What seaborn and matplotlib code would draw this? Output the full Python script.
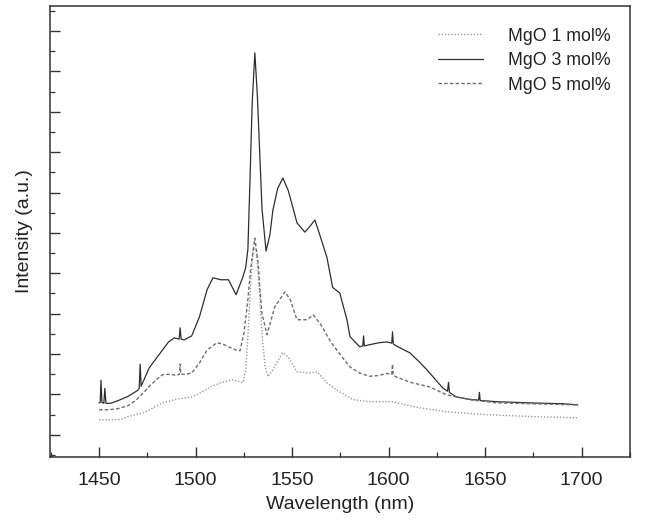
import matplotlib
matplotlib.use("Agg")
import matplotlib.pyplot as plt
import seaborn as sns
import pandas as pd
from matplotlib.ticker import MultipleLocator, NullFormatter

# ---- data ----
labels = ["MgO 1 mol%", "MgO 3 mol%", "MgO 5 mol%"]

mgo1_x = [1450, 1456, 1461, 1465, 1469, 1473, 1478, 1483, 1490, 1498, 1503, 1508,
          1513, 1519, 1524.5, 1526, 1527.2, 1528.5, 1529.8, 1531.5, 1533, 1534.4,
          1536, 1537.5, 1540, 1545, 1548, 1552.5, 1559, 1563, 1568, 1573, 1581.5,
          1590, 1602, 1609, 1616, 1630, 1650, 1675, 1698]
mgo1_y = [0.37, 0.37, 0.38, 0.45, 0.50, 0.54, 0.67, 0.79, 0.88, 0.94, 1.05, 1.19,
          1.29, 1.36, 1.29, 1.60, 2.50, 3.70, 4.60, 4.60, 3.60, 2.50,
          1.70, 1.44, 1.61, 2.03, 1.93, 1.56, 1.53, 1.56, 1.29, 1.11, 0.87,
          0.82, 0.82, 0.74, 0.67, 0.57, 0.50, 0.45, 0.42]

mgo3_x = [1450, 1450.6, 1451, 1451.5, 1452.5, 1453, 1453.6, 1456, 1460, 1465, 1470,
          1470.8, 1471.3, 1471.8, 1476, 1481, 1486, 1489, 1491.5, 1492, 1492.5, 1494,
          1498, 1502, 1506, 1509, 1513, 1517, 1521, 1524.5, 1526, 1527.1, 1528.3,
          1529.3, 1530.7, 1532, 1533.3, 1534.4, 1536.5, 1538.5, 1540, 1542.5, 1545.2,
          1548, 1550, 1552.5, 1556.6, 1559, 1561.8, 1564, 1568, 1571, 1574.7, 1578.4,
          1580, 1585, 1586.6, 1587, 1587.4, 1590, 1595, 1599, 1601.6, 1602, 1602.4,
          1604, 1611, 1616, 1620, 1624, 1628, 1630.5, 1631, 1631.5, 1635, 1643,
          1646.6, 1647, 1647.4, 1656, 1673, 1690, 1698]
mgo3_y = [0.79, 0.80, 1.35, 0.80, 0.78, 1.15, 0.78, 0.78, 0.85, 0.95, 1.10,
          1.15, 1.75, 1.20, 1.66, 1.98, 2.30, 2.40, 2.37, 2.65, 2.37, 2.35,
          2.45, 2.92, 3.60, 3.89, 3.84, 3.84, 3.47, 3.91, 4.15, 4.60, 6.50,
          8.20, 9.46, 8.40, 6.90, 5.60, 4.55, 4.95, 5.55, 6.10, 6.36,
          6.05, 5.70, 5.25, 5.02, 5.15, 5.32, 5.00, 4.40, 3.65, 3.51, 2.85,
          2.43, 2.18, 2.20, 2.45, 2.20, 2.23, 2.28, 2.30, 2.27, 2.55, 2.25,
          2.20, 2.03, 1.80, 1.60, 1.38, 1.16, 1.08, 1.30, 1.05, 0.94, 0.87,
          0.86, 1.05, 0.85, 0.82, 0.79, 0.77, 0.74]

mgo5_x = [1450, 1455, 1460, 1465, 1469, 1473, 1476, 1480, 1483, 1487, 1490, 1491.6,
          1492, 1492.4, 1495, 1498, 1502, 1506, 1511, 1514, 1517, 1521, 1523, 1525,
          1527, 1528.5, 1530.7, 1532.5, 1533.5, 1534.4, 1537, 1541, 1546.3, 1549,
          1552.5, 1557.7, 1561, 1565, 1570, 1575, 1580, 1585, 1590, 1595, 1599,
          1601.6, 1602, 1602.4, 1604, 1612, 1621, 1630, 1642, 1656, 1673, 1698]
mgo5_y = [0.62, 0.62, 0.65, 0.72, 0.85, 1.04, 1.20, 1.38, 1.49, 1.50, 1.47, 1.50,
          1.75, 1.50, 1.50, 1.53, 1.78, 2.10, 2.28, 2.25, 2.18, 2.10, 2.08, 2.50,
          3.30, 4.10, 4.87, 4.20, 3.50, 3.00, 2.48, 3.17, 3.54, 3.35,
          2.85, 2.85, 2.97, 2.72, 2.30, 1.98, 1.68, 1.53, 1.45, 1.47, 1.52,
          1.50, 1.75, 1.48, 1.43, 1.29, 1.19, 0.99, 0.87, 0.79, 0.77, 0.74]

xticks = [1450, 1500, 1550, 1600, 1650, 1700]

# ---- styling ----
sns.set_theme(style="white")
plt.rcParams["font.family"] = ["Liberation Sans", "DejaVu Sans"]

fig = plt.figure(figsize=(6.52, 5.29), dpi=100)
ax = fig.add_axes([50 / 652, 72 / 529, 580 / 652, 451 / 529])

series = [
    (labels[0], mgo1_x, mgo1_y, "#9a9a9a", (0, (1.0, 1.3)), 1.0),
    (labels[1], mgo3_x, mgo3_y, "#2e2e2e", "-", 0.9),
    (labels[2], mgo5_x, mgo5_y, "#6e6e6e", (0, (2.5, 1.6)), 1.0),
]
for lab, xs, ys, col, ls, lw in series:
    df = pd.DataFrame({"x": xs, "y": ys})
    sns.lineplot(data=df, x="x", y="y", ax=ax, color=col, linestyle=ls,
                 linewidth=lw, label=lab, estimator=None, sort=False)

ax.set_xlim(1424.6, 1725)
ax.set_ylim(-0.55, 10.62)
ax.set_xticks(xticks)
ax.xaxis.set_minor_locator(MultipleLocator(25))
ax.yaxis.set_major_locator(MultipleLocator(1))
ax.yaxis.set_minor_locator(MultipleLocator(0.5))
ax.yaxis.set_major_formatter(NullFormatter())

ax.tick_params(axis="x", which="both", direction="in", bottom=True, top=False,
               colors="#333333", labelcolor="#222222", labelsize=14, pad=11)
ax.tick_params(axis="y", which="both", direction="in", left=True, right=False,
               labelleft=False, colors="#333333")
ax.tick_params(which="major", length=7, width=1.0)
ax.tick_params(which="minor", length=3.5, width=0.9)

for sp in ax.spines.values():
    sp.set_visible(True)
    sp.set_color("#333333")
    sp.set_linewidth(1.1)

ax.set_xlabel("Wavelength (nm)", fontsize=14, color="#222222", labelpad=5)
ax.set_ylabel("Intensity (a.u.)", fontsize=14, color="#222222", labelpad=12)

leg = ax.legend(loc="upper left", bbox_to_anchor=(0.669, 0.952), frameon=False,
                fontsize=12.8, handlelength=2.55, handletextpad=1.4,
                labelspacing=0.42, borderpad=0, borderaxespad=0)
for t in leg.get_texts():
    t.set_color("#222222")

fig.savefig("out.png", dpi=100)
